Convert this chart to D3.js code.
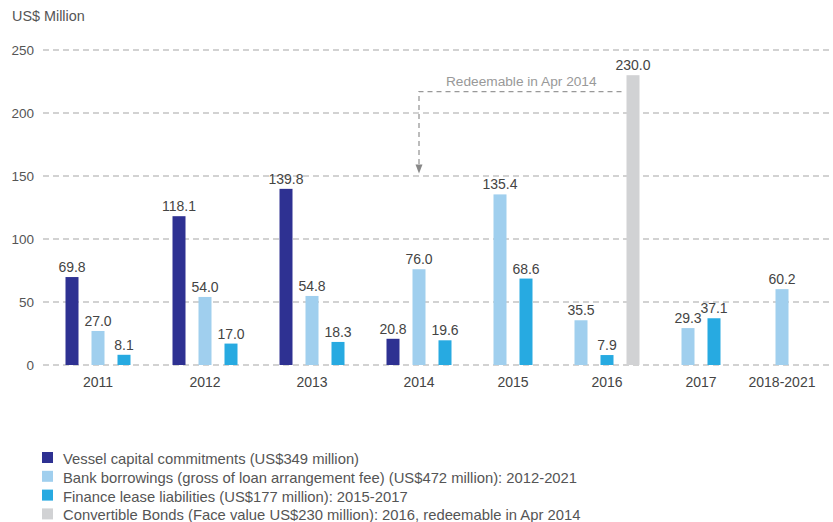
<!DOCTYPE html>
<html>
<head>
<meta charset="utf-8">
<script src="https://cdn.jsdelivr.net/npm/d3@7"></script>
<style>
  html, body { margin: 0; padding: 0; background: #fff; }
  svg { display: block; font-family: "Liberation Sans", Arial, sans-serif; }
</style>
</head>
<body>
<svg id="chart" width="833" height="522"></svg>
<script>
// ---- data ----
const categories = ["2011", "2012", "2013", "2014", "2015", "2016", "2017", "2018-2021"];
const vessel      = [69.8, 118.1, 139.8, 20.8, null, null, null, null];
const bank        = [27.0, 54.0, 54.8, 76.0, 135.4, 35.5, 29.3, 60.2];
const finance     = [8.1, 17.0, 18.3, 19.6, 68.6, 7.9, 37.1, null];
const convertible = [null, null, null, null, null, 230.0, null, null];
const yTicks = [0, 50, 100, 150, 200, 250];
const seriesNames = [
  "Vessel capital commitments (US$349 million)",
  "Bank borrowings (gross of loan arrangement fee) (US$472 million): 2012-2021",
  "Finance lease liabilities (US$177 million): 2015-2017",
  "Convertible Bonds (Face value US$230 million): 2016, redeemable in Apr 2014"
];
const annotationText = "Redeemable in Apr 2014";
const yTitle = "US$ Million";

// ---- styles ----
const colors = ["#2E3192", "#A0CFEE", "#27AAE1", "#D1D2D4"];
const seriesValues = [vessel, bank, finance, convertible];

const svg = d3.select("#chart");

// y scale
const y = d3.scaleLinear().domain([0, 250]).range([365, 50]);

// x layout: slots; each present bar takes one slot, with an extra gap between groups
const groupGap = 55 / 26 - 1; // extra slots between groups
const bars = [];
const groups = [];
let slot = 0;
categories.forEach((cat, gi) => {
  if (gi > 0) slot += groupGap;
  if (gi === categories.length - 1) slot += 0.5; // wider gap before the range category
  const members = [];
  seriesValues.forEach((vals, si) => {
    const v = vals[gi];
    if (v !== null && v !== undefined) {
      members.push({ cat, gi, si, value: v, slot });
      slot += 1;
    }
  });
  bars.push(...members);
  groups.push({ cat, first: members[0].slot, last: members[members.length - 1].slot });
});
const barW = 13;
const x = d3.scaleLinear().domain([0, 1]).range([65.5, 65.5 + 26]);

// gridlines
const grid = svg.append("g");
grid.selectAll("line").data(yTicks).join("line")
  .attr("x1", 43).attr("x2", 833)
  .attr("y1", d => y(d)).attr("y2", d => y(d))
  .attr("stroke", "#c4c4c4").attr("stroke-width", 1.3)
  .attr("stroke-dasharray", "6,4");

// y axis labels
const yAxis = d3.axisLeft(y).tickValues(yTicks).tickSize(0).tickPadding(0);
const yg = svg.append("g").attr("transform", "translate(34,0)").call(yAxis);
yg.select(".domain").remove();
yg.selectAll("text").attr("fill", "#555").style("font-size", "13.5px")
  .style("font-family", "'Liberation Sans', Arial, sans-serif");

svg.append("text").attr("x", 12).attr("y", 21).text(yTitle)
  .attr("fill", "#555").style("font-size", "14.4px");

// bars
svg.append("g").selectAll("rect").data(bars).join("rect")
  .attr("x", d => x(d.slot))
  .attr("width", barW)
  .attr("y", d => y(d.value))
  .attr("height", d => y(0) - y(d.value))
  .attr("fill", d => colors[d.si]);

// value labels
svg.append("g").selectAll("text").data(bars).join("text")
  .attr("x", d => x(d.slot) + barW / 2)
  .attr("y", d => y(d.value) - 5)
  .attr("text-anchor", "middle")
  .attr("fill", "#444")
  .style("font-size", "14px")
  .text(d => d.value.toFixed(1));

// x labels
svg.append("g").selectAll("text").data(groups).join("text")
  .attr("x", d => (x(d.first) + x(d.last) + barW) / 2)
  .attr("y", 387)
  .attr("text-anchor", "middle")
  .attr("fill", "#444")
  .style("font-size", "14px")
  .text(d => d.cat);

// annotation (dashed arrow from convertible bar to 2014)
const convBar = bars.find(b => b.si === 3);
const g2014 = groups[categories.indexOf("2014")];
const ax = (x(g2014.first) + x(g2014.last) + barW) / 2;
const ayTop = y(217);
const ayTip = y(152);
const axRight = x(convBar.slot) - 5;
svg.append("path")
  .attr("d", `M${axRight},${ayTop} H${ax} V${ayTip - 7}`)
  .attr("fill", "none").attr("stroke", "#999").attr("stroke-width", 1.3)
  .attr("stroke-dasharray", "5,4");
svg.append("path")
  .attr("d", `M${ax - 3.5},${ayTip - 9} L${ax + 3.5},${ayTip - 9} L${ax},${ayTip} Z`)
  .attr("fill", "#888");
svg.append("text")
  .attr("x", (ax + axRight) / 2 + 1)
  .attr("y", ayTop - 6)
  .attr("text-anchor", "middle")
  .attr("fill", "#999")
  .style("font-size", "13.7px")
  .text(annotationText);

// legend
const legend = svg.append("g");
const lg = legend.selectAll("g").data(seriesNames).join("g")
  .attr("transform", (d, i) => `translate(42,${452 + i * 18.8})`);
lg.append("rect").attr("width", 11).attr("height", 11).attr("fill", (d, i) => colors[i]);
lg.append("text").attr("x", 21).attr("y", 12).attr("fill", "#555")
  .style("font-size", "14.8px").text(d => d);
</script>
</body>
</html>
